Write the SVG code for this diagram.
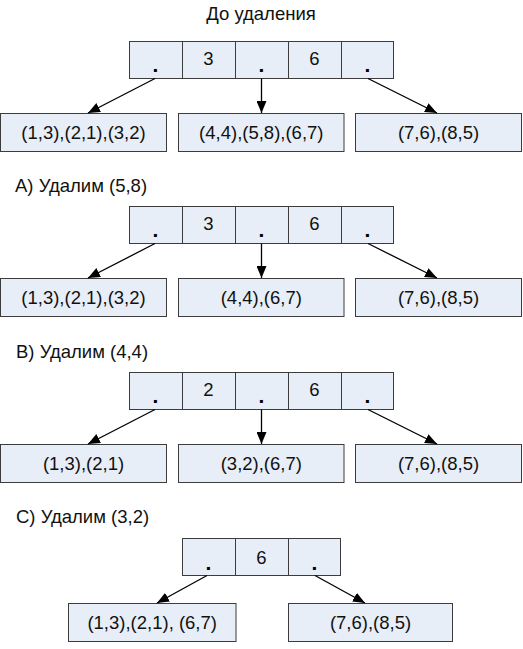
<svg xmlns="http://www.w3.org/2000/svg" width="523" height="649" viewBox="0 0 523 649">
<style>
.box{fill:#e8eef7;stroke:#3c3c3c;stroke-width:1}
.div{stroke:#3c3c3c;stroke-width:1}
.t{font-family:"Liberation Sans",Arial,sans-serif;font-size:18.5px;fill:#111;text-anchor:middle}
.d{font-family:"Liberation Sans",Arial,sans-serif;font-size:21px;font-weight:bold;fill:#000;text-anchor:middle}
.lbl{font-family:"Liberation Sans",Arial,sans-serif;font-size:18.5px;fill:#111}
.c{stroke:#000;stroke-width:1.3;fill:none;marker-end:url(#ah)}
</style>
<defs>
<marker id="ah" markerUnits="userSpaceOnUse" markerWidth="12" markerHeight="10" viewBox="0 0 12 10" refX="12" refY="5" orient="auto">
<path d="M0,0 L12,5 L0,10 Z" fill="#000"/>
</marker>
</defs>
<text class="lbl" x="261" y="20" text-anchor="middle">До удаления</text>
<text class="lbl" x="15" y="192">А) Удалим (5,8)</text>
<text class="lbl" x="16" y="358">B) Удалим (4,4)</text>
<text class="lbl" x="16" y="523">C) Удалим (3,2)</text>

<g id="n1">
<rect class="box" x="129.5" y="41.5" width="264" height="37"/>
<line class="div" x1="182.5" y1="41.5" x2="182.5" y2="78.5"/>
<line class="div" x1="235.5" y1="41.5" x2="235.5" y2="78.5"/>
<line class="div" x1="288.5" y1="41.5" x2="288.5" y2="78.5"/>
<line class="div" x1="341.5" y1="41.5" x2="341.5" y2="78.5"/>
<text class="d" x="155.5" y="72">.</text><text class="t" x="208.5" y="65">3</text><text class="d" x="261.5" y="72">.</text><text class="t" x="314.5" y="65">6</text><text class="d" x="367.5" y="72">.</text>
</g>
<g id="l1a"><rect class="box" x="0.5" y="113.5" width="166" height="38"/><text class="t" x="83.5" y="139">(1,3),(2,1),(3,2)</text></g>
<g id="l1b"><rect class="box" x="178.5" y="113.5" width="165.5" height="38"/><text class="t" x="261.3" y="139">(4,4),(5,8),(6,7)</text></g>
<g id="l1c"><rect class="box" x="355.5" y="113.5" width="166" height="38"/><text class="t" x="438.5" y="139">(7,6),(8,5)</text></g>

<g id="n2">
<rect class="box" x="129.5" y="206.5" width="264" height="37"/>
<line class="div" x1="182.5" y1="206.5" x2="182.5" y2="243.5"/>
<line class="div" x1="235.5" y1="206.5" x2="235.5" y2="243.5"/>
<line class="div" x1="288.5" y1="206.5" x2="288.5" y2="243.5"/>
<line class="div" x1="341.5" y1="206.5" x2="341.5" y2="243.5"/>
<text class="d" x="155.5" y="237">.</text><text class="t" x="208.5" y="230">3</text><text class="d" x="261.5" y="237">.</text><text class="t" x="314.5" y="230">6</text><text class="d" x="367.5" y="237">.</text>
</g>
<g id="l2a"><rect class="box" x="0.5" y="278.5" width="166" height="38"/><text class="t" x="83.5" y="304">(1,3),(2,1),(3,2)</text></g>
<g id="l2b"><rect class="box" x="178.5" y="278.5" width="165.5" height="38"/><text class="t" x="261.3" y="304">(4,4),(6,7)</text></g>
<g id="l2c"><rect class="box" x="355.5" y="278.5" width="166" height="38"/><text class="t" x="438.5" y="304">(7,6),(8,5)</text></g>

<g id="n3">
<rect class="box" x="129.5" y="372.5" width="264" height="37"/>
<line class="div" x1="182.5" y1="372.5" x2="182.5" y2="409.5"/>
<line class="div" x1="235.5" y1="372.5" x2="235.5" y2="409.5"/>
<line class="div" x1="288.5" y1="372.5" x2="288.5" y2="409.5"/>
<line class="div" x1="341.5" y1="372.5" x2="341.5" y2="409.5"/>
<text class="d" x="155.5" y="403">.</text><text class="t" x="208.5" y="396">2</text><text class="d" x="261.5" y="403">.</text><text class="t" x="314.5" y="396">6</text><text class="d" x="367.5" y="403">.</text>
</g>
<g id="l3a"><rect class="box" x="0.5" y="444.5" width="166" height="38"/><text class="t" x="83.5" y="470">(1,3),(2,1)</text></g>
<g id="l3b"><rect class="box" x="178.5" y="444.5" width="165.5" height="38"/><text class="t" x="261.3" y="470">(3,2),(6,7)</text></g>
<g id="l3c"><rect class="box" x="355.5" y="444.5" width="166" height="38"/><text class="t" x="438.5" y="470">(7,6),(8,5)</text></g>

<g id="n4">
<rect class="box" x="182.5" y="538.5" width="158" height="37"/>
<line class="div" x1="235.5" y1="538.5" x2="235.5" y2="575.5"/>
<line class="div" x1="288.5" y1="538.5" x2="288.5" y2="575.5"/>
<text class="d" x="208.5" y="570">.</text><text class="t" x="261.5" y="564">6</text><text class="d" x="314.5" y="570">.</text>
</g>
<g id="l4a"><rect class="box" x="68.5" y="603.5" width="167.5" height="38"/><text class="t" x="152.2" y="629">(1,3),(2,1), (6,7)</text></g>
<g id="l4b"><rect class="box" x="288.5" y="603.5" width="164" height="38"/><text class="t" x="370.5" y="629">(7,6),(8,5)</text></g>

<g id="connectors">
<line class="c" x1="155" y1="78.5" x2="88" y2="113"/>
<line class="c" x1="261.5" y1="78.5" x2="261.5" y2="113"/>
<line class="c" x1="368" y1="78.5" x2="437" y2="113"/>
<line class="c" x1="155" y1="243.5" x2="88" y2="278"/>
<line class="c" x1="261.5" y1="243.5" x2="261.5" y2="278"/>
<line class="c" x1="368" y1="243.5" x2="437" y2="278"/>
<line class="c" x1="155" y1="409.5" x2="88" y2="444"/>
<line class="c" x1="261.5" y1="409.5" x2="261.5" y2="444"/>
<line class="c" x1="368" y1="409.5" x2="437" y2="444"/>
<line class="c" x1="207" y1="575.5" x2="157" y2="603"/>
<line class="c" x1="315" y1="575.5" x2="365" y2="603"/>
</g>
</svg>
